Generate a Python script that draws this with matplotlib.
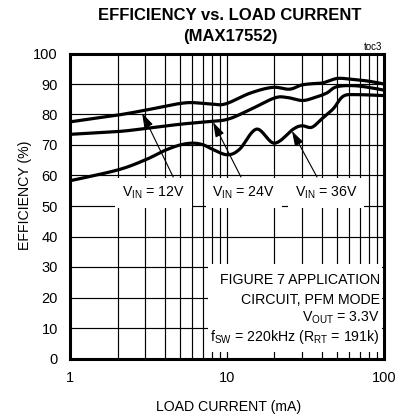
import numpy as np
import matplotlib.pyplot as plt
from matplotlib.patches import Rectangle

plt.rcParams['font.family'] = ['Liberation Sans', 'DejaVu Sans']
plt.rcParams['mathtext.fontset'] = 'custom'
plt.rcParams['mathtext.rm'] = 'Liberation Sans'

# curves (load current mA, efficiency %)
i_12 = [1, 2, 3, 4, 5, 6, 8, 9.8, 14, 19.5, 25, 30, 37, 41, 50, 60.7, 78, 100]
e_12 = [77.6, 79.8, 81.4, 82.7, 83.6, 83.9, 83.4, 83.5, 87.0, 88.9, 88.3, 89.7, 90.2, 90.4, 91.8, 91.6, 91.0, 90.0]

i_24 = [1, 2, 3, 5, 7, 10, 14, 20, 24, 30, 35.4, 43, 50, 67, 100]
e_24 = [73.5, 74.4, 75.4, 76.8, 77.5, 78.4, 81.6, 85.4, 85.6, 84.6, 85.4, 87.0, 89.1, 89.4, 88.0]

i_36 = [1, 2, 3, 4, 5, 6, 7, 8, 10, 12, 15.4, 20, 26.4, 30, 34.6, 40, 47.5, 55, 67, 100]
e_36 = [58.3, 61.8, 65.1, 68.2, 70.0, 70.6, 70.1, 68.7, 66.8, 68.6, 75.2, 70.6, 75.2, 76.3, 75.8, 78.5, 81.9, 86.0, 86.5, 86.2]

x_ticks = [1, 10, 100]
y_ticks = list(range(0, 101, 10))

# label text position, arrow tail, arrow head
labels = ['12V', '24V', '36V']
label_xy = [(3.37, 54.3), (12.8, 54.3), (42.7, 54.3)]
arrow_tail = [(4.53, 59.5), (12.25, 59.5), (37.4, 59.5)]
arrow_head = [(2.87, 80.5), (8.13, 77.5), (25.9, 74.6)]

FS = 10.2


def smooth(xs, ys):
    # catmull-rom through the read points, on log x
    P = list(zip(np.log10(xs), ys))
    P = [P[0]] + P + [P[-1]]
    out_x, out_y = [], []
    for k in range(1, len(P) - 2):
        p0, p1, p2, p3 = map(np.array, (P[k - 1], P[k], P[k + 1], P[k + 2]))
        for s in np.linspace(0, 1, 20, endpoint=False):
            pt = 0.5 * ((2 * p1) + (-p0 + p2) * s + (2 * p0 - 5 * p1 + 4 * p2 - p3) * s ** 2
                        + (-p0 + 3 * p1 - 3 * p2 + p3) * s ** 3)
            out_x.append(pt[0])
            out_y.append(pt[1])
    out_x.append(P[-1][0])
    out_y.append(P[-1][1])
    return 10 ** np.array(out_x), np.array(out_y)


fig = plt.figure(figsize=(4.02, 4.17), dpi=100)
ax = fig.add_axes([70.3 / 402, 1 - 358.5 / 417, (384 - 70.3) / 402, 305 / 417])

ax.set_xscale('log')
ax.set_xlim(1, 100)
ax.set_ylim(0, 100)
ax.set_xticks(x_ticks)
ax.set_xticklabels([str(v) for v in x_ticks])
ax.set_yticks(y_ticks)
ax.xaxis.set_minor_formatter(plt.NullFormatter())
ax.tick_params(which='both', length=0, labelsize=10.5)
ax.tick_params(axis='y', pad=9)
ax.tick_params(axis='x', pad=9)
ax.grid(True, which='both', color='black', lw=0.85)
ax.set_axisbelow(True)
for sp in ax.spines.values():
    sp.set_linewidth(2.2)

for xs, ys in [(i_12, e_12), (i_24, e_24), (i_36, e_36)]:
    sx, sy = smooth(xs, ys)
    ax.plot(sx, sy, color='black', lw=2.3, zorder=3, solid_capstyle='butt')

for lab, (tx, ty), tail, head in zip(labels, label_xy, arrow_tail, arrow_head):
    ax.text(tx, ty, r'V$_{\mathregular{IN}}$ = ' + lab, ha='center', va='center',
            fontsize=FS, zorder=4,
            bbox=dict(facecolor='white', edgecolor='none', pad=5))
    ax.annotate('', xy=head, xytext=tail, zorder=4,
                arrowprops=dict(arrowstyle='-|>,head_length=0.9,head_width=0.28',
                                color='black', lw=0.8, shrinkA=0, shrinkB=0))

# white box behind the conditions text
ax.add_patch(Rectangle((0.44, 0.02), 0.555, 0.29, transform=ax.transAxes,
                       facecolor='white', edgecolor='none', zorder=2))
cond = ['FIGURE 7 APPLICATION', 'CIRCUIT, PFM MODE', r'V$_{\mathregular{OUT}}$ = 3.3V',
        r'f$_{\mathregular{SW}}$ = 220kHz (R$_{\mathregular{RT}}$ = 191k)']
cond_y = [0.257, 0.192, 0.133, 0.070]
for s, yy in zip(cond, cond_y):
    ax.text(0.987, yy, s, transform=ax.transAxes, ha='right', va='center',
            fontsize=FS, zorder=4)

fig.text(230 / 402, 1 - 15 / 417, 'EFFICIENCY vs. LOAD CURRENT', ha='center', va='center',
         fontsize=12, fontweight='bold')
fig.text(230 / 402, 1 - 37 / 417, '(MAX17552)', ha='center', va='center',
         fontsize=12, fontweight='bold')
fig.text(382 / 402, 1 - 47 / 417, 'toc3', ha='right', va='center', fontsize=7)
fig.text(25 / 402, 1 - 195 / 417, 'EFFICIENCY (%)', rotation=90, ha='center', va='center',
         fontsize=FS)
fig.text(229 / 402, 1 - 407 / 417, 'LOAD CURRENT (mA)', ha='center', va='center',
         fontsize=FS)

fig.savefig('out.png', dpi=100)
